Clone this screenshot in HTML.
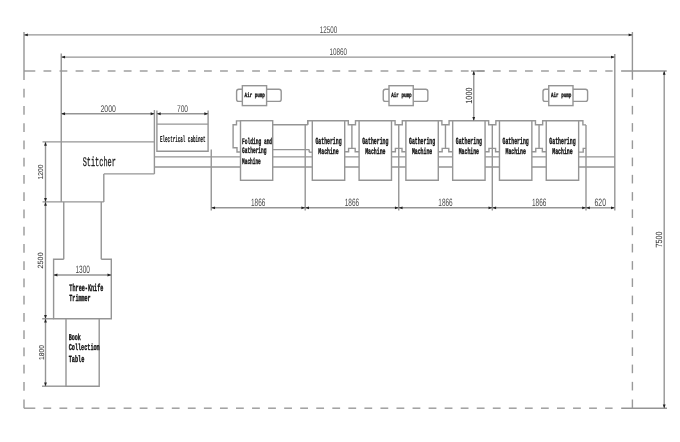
<!DOCTYPE html>
<html><head><meta charset="utf-8"><style>
html,body{margin:0;padding:0;background:#fff;width:680px;height:442px;overflow:hidden}
svg{display:block;will-change:transform;text-rendering:geometricPrecision}
</style></head><body>
<svg width="680" height="442" viewBox="0 0 680 442">
<rect x="0" y="0" width="680" height="442" fill="#fff"/>
<line x1="24" y1="71" x2="35.3" y2="71" stroke="#999" stroke-width="1.4" />
<line x1="43.5" y1="71" x2="51.3" y2="71" stroke="#999" stroke-width="1.4" />
<line x1="59.55" y1="71" x2="67.35" y2="71" stroke="#999" stroke-width="1.4" />
<line x1="75.6" y1="71" x2="83.39999999999999" y2="71" stroke="#999" stroke-width="1.4" />
<line x1="91.64999999999999" y1="71" x2="99.44999999999999" y2="71" stroke="#999" stroke-width="1.4" />
<line x1="107.69999999999999" y1="71" x2="115.49999999999999" y2="71" stroke="#999" stroke-width="1.4" />
<line x1="123.74999999999999" y1="71" x2="131.54999999999998" y2="71" stroke="#999" stroke-width="1.4" />
<line x1="139.79999999999998" y1="71" x2="147.6" y2="71" stroke="#999" stroke-width="1.4" />
<line x1="155.85" y1="71" x2="163.65" y2="71" stroke="#999" stroke-width="1.4" />
<line x1="171.9" y1="71" x2="179.70000000000002" y2="71" stroke="#999" stroke-width="1.4" />
<line x1="187.95000000000002" y1="71" x2="195.75000000000003" y2="71" stroke="#999" stroke-width="1.4" />
<line x1="204.00000000000003" y1="71" x2="211.80000000000004" y2="71" stroke="#999" stroke-width="1.4" />
<line x1="220.05000000000004" y1="71" x2="227.85000000000005" y2="71" stroke="#999" stroke-width="1.4" />
<line x1="236.10000000000005" y1="71" x2="243.90000000000006" y2="71" stroke="#999" stroke-width="1.4" />
<line x1="252.15000000000006" y1="71" x2="259.95000000000005" y2="71" stroke="#999" stroke-width="1.4" />
<line x1="268.20000000000005" y1="71" x2="276.00000000000006" y2="71" stroke="#999" stroke-width="1.4" />
<line x1="284.25000000000006" y1="71" x2="292.05000000000007" y2="71" stroke="#999" stroke-width="1.4" />
<line x1="300.30000000000007" y1="71" x2="308.1000000000001" y2="71" stroke="#999" stroke-width="1.4" />
<line x1="316.3500000000001" y1="71" x2="324.1500000000001" y2="71" stroke="#999" stroke-width="1.4" />
<line x1="332.4000000000001" y1="71" x2="340.2000000000001" y2="71" stroke="#999" stroke-width="1.4" />
<line x1="348.4500000000001" y1="71" x2="356.2500000000001" y2="71" stroke="#999" stroke-width="1.4" />
<line x1="364.5000000000001" y1="71" x2="372.3000000000001" y2="71" stroke="#999" stroke-width="1.4" />
<line x1="380.5500000000001" y1="71" x2="388.35000000000014" y2="71" stroke="#999" stroke-width="1.4" />
<line x1="396.60000000000014" y1="71" x2="404.40000000000015" y2="71" stroke="#999" stroke-width="1.4" />
<line x1="412.65000000000015" y1="71" x2="420.45000000000016" y2="71" stroke="#999" stroke-width="1.4" />
<line x1="428.70000000000016" y1="71" x2="436.50000000000017" y2="71" stroke="#999" stroke-width="1.4" />
<line x1="444.75000000000017" y1="71" x2="452.5500000000002" y2="71" stroke="#999" stroke-width="1.4" />
<line x1="460.8000000000002" y1="71" x2="468.6000000000002" y2="71" stroke="#999" stroke-width="1.4" />
<line x1="476.8500000000002" y1="71" x2="484.6500000000002" y2="71" stroke="#999" stroke-width="1.4" />
<line x1="492.9000000000002" y1="71" x2="500.7000000000002" y2="71" stroke="#999" stroke-width="1.4" />
<line x1="508.9500000000002" y1="71" x2="516.7500000000002" y2="71" stroke="#999" stroke-width="1.4" />
<line x1="525.0000000000002" y1="71" x2="532.8000000000002" y2="71" stroke="#999" stroke-width="1.4" />
<line x1="541.0500000000002" y1="71" x2="548.8500000000001" y2="71" stroke="#999" stroke-width="1.4" />
<line x1="557.1000000000001" y1="71" x2="564.9000000000001" y2="71" stroke="#999" stroke-width="1.4" />
<line x1="573.1500000000001" y1="71" x2="580.95" y2="71" stroke="#999" stroke-width="1.4" />
<line x1="589.2" y1="71" x2="597.0" y2="71" stroke="#999" stroke-width="1.4" />
<line x1="605.25" y1="71" x2="612.6" y2="71" stroke="#999" stroke-width="1.4" />
<line x1="24" y1="408.2" x2="35.3" y2="408.2" stroke="#999" stroke-width="1.4" />
<line x1="43.4" y1="408.2" x2="51.199999999999996" y2="408.2" stroke="#999" stroke-width="1.4" />
<line x1="59.45" y1="408.2" x2="67.25" y2="408.2" stroke="#999" stroke-width="1.4" />
<line x1="75.5" y1="408.2" x2="83.3" y2="408.2" stroke="#999" stroke-width="1.4" />
<line x1="91.55" y1="408.2" x2="99.35" y2="408.2" stroke="#999" stroke-width="1.4" />
<line x1="107.6" y1="408.2" x2="115.39999999999999" y2="408.2" stroke="#999" stroke-width="1.4" />
<line x1="123.64999999999999" y1="408.2" x2="131.45" y2="408.2" stroke="#999" stroke-width="1.4" />
<line x1="139.7" y1="408.2" x2="147.5" y2="408.2" stroke="#999" stroke-width="1.4" />
<line x1="155.75" y1="408.2" x2="163.55" y2="408.2" stroke="#999" stroke-width="1.4" />
<line x1="171.8" y1="408.2" x2="179.60000000000002" y2="408.2" stroke="#999" stroke-width="1.4" />
<line x1="187.85000000000002" y1="408.2" x2="195.65000000000003" y2="408.2" stroke="#999" stroke-width="1.4" />
<line x1="203.90000000000003" y1="408.2" x2="211.70000000000005" y2="408.2" stroke="#999" stroke-width="1.4" />
<line x1="219.95000000000005" y1="408.2" x2="227.75000000000006" y2="408.2" stroke="#999" stroke-width="1.4" />
<line x1="236.00000000000006" y1="408.2" x2="243.80000000000007" y2="408.2" stroke="#999" stroke-width="1.4" />
<line x1="252.05000000000007" y1="408.2" x2="259.8500000000001" y2="408.2" stroke="#999" stroke-width="1.4" />
<line x1="268.1000000000001" y1="408.2" x2="275.9000000000001" y2="408.2" stroke="#999" stroke-width="1.4" />
<line x1="284.1500000000001" y1="408.2" x2="291.9500000000001" y2="408.2" stroke="#999" stroke-width="1.4" />
<line x1="300.2000000000001" y1="408.2" x2="308.0000000000001" y2="408.2" stroke="#999" stroke-width="1.4" />
<line x1="316.2500000000001" y1="408.2" x2="324.0500000000001" y2="408.2" stroke="#999" stroke-width="1.4" />
<line x1="332.3000000000001" y1="408.2" x2="340.10000000000014" y2="408.2" stroke="#999" stroke-width="1.4" />
<line x1="348.35000000000014" y1="408.2" x2="356.15000000000015" y2="408.2" stroke="#999" stroke-width="1.4" />
<line x1="364.40000000000015" y1="408.2" x2="372.20000000000016" y2="408.2" stroke="#999" stroke-width="1.4" />
<line x1="380.45000000000016" y1="408.2" x2="388.25000000000017" y2="408.2" stroke="#999" stroke-width="1.4" />
<line x1="396.50000000000017" y1="408.2" x2="404.3000000000002" y2="408.2" stroke="#999" stroke-width="1.4" />
<line x1="412.5500000000002" y1="408.2" x2="420.3500000000002" y2="408.2" stroke="#999" stroke-width="1.4" />
<line x1="428.6000000000002" y1="408.2" x2="436.4000000000002" y2="408.2" stroke="#999" stroke-width="1.4" />
<line x1="444.6500000000002" y1="408.2" x2="452.4500000000002" y2="408.2" stroke="#999" stroke-width="1.4" />
<line x1="460.7000000000002" y1="408.2" x2="468.5000000000002" y2="408.2" stroke="#999" stroke-width="1.4" />
<line x1="476.7500000000002" y1="408.2" x2="484.55000000000024" y2="408.2" stroke="#999" stroke-width="1.4" />
<line x1="492.80000000000024" y1="408.2" x2="500.60000000000025" y2="408.2" stroke="#999" stroke-width="1.4" />
<line x1="508.85000000000025" y1="408.2" x2="516.6500000000002" y2="408.2" stroke="#999" stroke-width="1.4" />
<line x1="524.9000000000002" y1="408.2" x2="532.7000000000002" y2="408.2" stroke="#999" stroke-width="1.4" />
<line x1="540.9500000000002" y1="408.2" x2="548.7500000000001" y2="408.2" stroke="#999" stroke-width="1.4" />
<line x1="557.0000000000001" y1="408.2" x2="564.8000000000001" y2="408.2" stroke="#999" stroke-width="1.4" />
<line x1="573.0500000000001" y1="408.2" x2="580.85" y2="408.2" stroke="#999" stroke-width="1.4" />
<line x1="589.1" y1="408.2" x2="596.9" y2="408.2" stroke="#999" stroke-width="1.4" />
<line x1="605.15" y1="408.2" x2="612.6" y2="408.2" stroke="#999" stroke-width="1.4" />
<line x1="24" y1="32" x2="24" y2="79.9" stroke="#959595" stroke-width="1.4" />
<line x1="24" y1="88.8" x2="24" y2="97.39999999999999" stroke="#999" stroke-width="1.4" />
<line x1="24" y1="106.05" x2="24" y2="114.64999999999999" stroke="#999" stroke-width="1.4" />
<line x1="24" y1="123.3" x2="24" y2="131.9" stroke="#999" stroke-width="1.4" />
<line x1="24" y1="140.55" x2="24" y2="149.15" stroke="#999" stroke-width="1.4" />
<line x1="24" y1="157.8" x2="24" y2="166.4" stroke="#999" stroke-width="1.4" />
<line x1="24" y1="175.05" x2="24" y2="183.65" stroke="#999" stroke-width="1.4" />
<line x1="24" y1="192.3" x2="24" y2="200.9" stroke="#999" stroke-width="1.4" />
<line x1="24" y1="209.55" x2="24" y2="218.15" stroke="#999" stroke-width="1.4" />
<line x1="24" y1="226.8" x2="24" y2="235.4" stroke="#999" stroke-width="1.4" />
<line x1="24" y1="244.05" x2="24" y2="252.65" stroke="#999" stroke-width="1.4" />
<line x1="24" y1="261.3" x2="24" y2="269.90000000000003" stroke="#999" stroke-width="1.4" />
<line x1="24" y1="278.55" x2="24" y2="287.15000000000003" stroke="#999" stroke-width="1.4" />
<line x1="24" y1="295.8" x2="24" y2="304.40000000000003" stroke="#999" stroke-width="1.4" />
<line x1="24" y1="313.05" x2="24" y2="321.65000000000003" stroke="#999" stroke-width="1.4" />
<line x1="24" y1="330.3" x2="24" y2="338.90000000000003" stroke="#999" stroke-width="1.4" />
<line x1="24" y1="347.55" x2="24" y2="356.15000000000003" stroke="#999" stroke-width="1.4" />
<line x1="24" y1="364.8" x2="24" y2="373.40000000000003" stroke="#999" stroke-width="1.4" />
<line x1="24" y1="382.05" x2="24" y2="390.65000000000003" stroke="#999" stroke-width="1.4" />
<line x1="24" y1="399.5" x2="24" y2="408.2" stroke="#999" stroke-width="1.4" />
<line x1="632.4" y1="32" x2="632.4" y2="79.8" stroke="#959595" stroke-width="1.4" />
<line x1="632.4" y1="88.6" x2="632.4" y2="97.19999999999999" stroke="#999" stroke-width="1.4" />
<line x1="632.4" y1="105.85" x2="632.4" y2="114.44999999999999" stroke="#999" stroke-width="1.4" />
<line x1="632.4" y1="123.1" x2="632.4" y2="131.7" stroke="#999" stroke-width="1.4" />
<line x1="632.4" y1="140.35" x2="632.4" y2="148.95" stroke="#999" stroke-width="1.4" />
<line x1="632.4" y1="157.6" x2="632.4" y2="166.2" stroke="#999" stroke-width="1.4" />
<line x1="632.4" y1="174.85" x2="632.4" y2="183.45" stroke="#999" stroke-width="1.4" />
<line x1="632.4" y1="192.1" x2="632.4" y2="200.7" stroke="#999" stroke-width="1.4" />
<line x1="632.4" y1="209.35" x2="632.4" y2="217.95" stroke="#999" stroke-width="1.4" />
<line x1="632.4" y1="226.6" x2="632.4" y2="235.2" stroke="#999" stroke-width="1.4" />
<line x1="632.4" y1="243.85" x2="632.4" y2="252.45" stroke="#999" stroke-width="1.4" />
<line x1="632.4" y1="261.1" x2="632.4" y2="269.70000000000005" stroke="#999" stroke-width="1.4" />
<line x1="632.4" y1="278.35" x2="632.4" y2="286.95000000000005" stroke="#999" stroke-width="1.4" />
<line x1="632.4" y1="295.6" x2="632.4" y2="304.20000000000005" stroke="#999" stroke-width="1.4" />
<line x1="632.4" y1="312.85" x2="632.4" y2="321.45000000000005" stroke="#999" stroke-width="1.4" />
<line x1="632.4" y1="330.1" x2="632.4" y2="338.70000000000005" stroke="#999" stroke-width="1.4" />
<line x1="632.4" y1="347.35" x2="632.4" y2="355.95000000000005" stroke="#999" stroke-width="1.4" />
<line x1="632.4" y1="364.6" x2="632.4" y2="373.20000000000005" stroke="#999" stroke-width="1.4" />
<line x1="632.4" y1="381.85" x2="632.4" y2="390.45000000000005" stroke="#999" stroke-width="1.4" />
<line x1="632.4" y1="399.5" x2="632.4" y2="408.2" stroke="#999" stroke-width="1.4" />
<line x1="24" y1="34.9" x2="632.4" y2="34.9" stroke="#959595" stroke-width="1.4" />
<polygon points="24.00,34.90 27.80,33.50 27.80,36.30" fill="#222"/>
<polygon points="632.40,34.90 628.60,33.50 628.60,36.30" fill="#222"/>
<text x="319.8" y="32.7" font-size="9.64" font-family="Liberation Sans, sans-serif" fill="#4a4a4a" textLength="17.40" lengthAdjust="spacingAndGlyphs">12500</text>
<line x1="61.25" y1="53.5" x2="61.25" y2="202" stroke="#959595" stroke-width="1.4" />
<line x1="614.8" y1="54" x2="614.8" y2="210.5" stroke="#959595" stroke-width="1.4" />
<line x1="61.25" y1="57.1" x2="614.8" y2="57.1" stroke="#959595" stroke-width="1.4" />
<polygon points="61.25,57.10 65.05,55.70 65.05,58.50" fill="#222"/>
<polygon points="614.80,57.10 611.00,55.70 611.00,58.50" fill="#222"/>
<text x="329.5" y="54.9" font-size="9.64" font-family="Liberation Sans, sans-serif" fill="#4a4a4a" textLength="17.60" lengthAdjust="spacingAndGlyphs">10860</text>
<line x1="621.1" y1="71" x2="666.7" y2="71" stroke="#959595" stroke-width="1.4" />
<line x1="621.2" y1="408.2" x2="667" y2="408.2" stroke="#959595" stroke-width="1.4" />
<line x1="664.2" y1="71" x2="664.2" y2="408.2" stroke="#959595" stroke-width="1.4" />
<polygon points="664.20,71.00 662.80,74.80 665.60,74.80" fill="#222"/>
<polygon points="664.20,408.20 662.80,404.40 665.60,404.40" fill="#222"/>
<text transform="translate(658.7,239.6) rotate(-90)" x="-8.00" y="3.20" font-size="8.94" font-family="Liberation Sans, sans-serif" fill="#3a3a3a" stroke="#3a3a3a" stroke-width="0.08" textLength="16.00" lengthAdjust="spacingAndGlyphs">7500</text>
<line x1="42.5" y1="141.9" x2="154.4" y2="141.9" stroke="#959595" stroke-width="1.4" />
<line x1="154.4" y1="110" x2="154.4" y2="173.9" stroke="#959595" stroke-width="1.4" />
<line x1="154.4" y1="173.9" x2="103.8" y2="173.9" stroke="#959595" stroke-width="1.4" />
<line x1="103.8" y1="173.9" x2="103.8" y2="202" stroke="#959595" stroke-width="1.4" />
<line x1="42.5" y1="201.9" x2="103.8" y2="201.9" stroke="#959595" stroke-width="1.4" />
<line x1="61.25" y1="113.75" x2="154.4" y2="113.75" stroke="#959595" stroke-width="1.4" />
<polygon points="61.25,113.75 65.05,112.35 65.05,115.15" fill="#222"/>
<polygon points="154.40,113.75 150.60,112.35 150.60,115.15" fill="#222"/>
<text x="100.4" y="111.8" font-size="9.64" font-family="Liberation Sans, sans-serif" fill="#4a4a4a" textLength="15.50" lengthAdjust="spacingAndGlyphs">2000</text>
<text x="82.7" y="165.6" font-size="13.18" font-family="Liberation Mono, monospace" font-weight="normal" fill="#222" stroke="#222" stroke-width="0.35" textLength="33.10" lengthAdjust="spacingAndGlyphs">Stitcher</text>
<line x1="63.75" y1="202" x2="63.75" y2="259.3" stroke="#959595" stroke-width="1.4" />
<line x1="101.25" y1="202" x2="101.25" y2="259.3" stroke="#959595" stroke-width="1.4" />
<path d="M63.75,259.3 H53.6 V318.75 H111.3 V259.3 H101.25" stroke="#959595" stroke-width="1.4" fill="none"/>
<line x1="53.6" y1="275" x2="111.3" y2="275" stroke="#959595" stroke-width="1.4" />
<polygon points="53.60,275.00 57.40,273.60 57.40,276.40" fill="#222"/>
<polygon points="111.30,275.00 107.50,273.60 107.50,276.40" fill="#222"/>
<text x="75.4" y="272.5" font-size="10.61" font-family="Liberation Sans, sans-serif" fill="#4a4a4a" textLength="14.50" lengthAdjust="spacingAndGlyphs">1300</text>
<text x="69.35" y="290.8" font-size="10.00" font-family="Liberation Mono, monospace" font-weight="bold" fill="#111" stroke="#111" stroke-width="0.35" textLength="34.05" lengthAdjust="spacingAndGlyphs">Three-Knife</text>
<text x="69.35" y="301.2" font-size="9.39" font-family="Liberation Mono, monospace" font-weight="bold" fill="#111" stroke="#111" stroke-width="0.35" textLength="21.15" lengthAdjust="spacingAndGlyphs">Trimmer</text>
<line x1="42.2" y1="318.75" x2="53.6" y2="318.75" stroke="#959595" stroke-width="1.4" />
<path d="M66,318.75 V386.2 H99.2 V318.75" stroke="#959595" stroke-width="1.4" fill="none"/>
<line x1="42" y1="386.2" x2="66" y2="386.2" stroke="#959595" stroke-width="1.4" />
<text x="68.7" y="339.8" font-size="8.79" font-family="Liberation Mono, monospace" font-weight="bold" fill="#111" stroke="#111" stroke-width="0.35" textLength="12.20" lengthAdjust="spacingAndGlyphs">Book</text>
<text x="68.7" y="350.4" font-size="9.09" font-family="Liberation Mono, monospace" font-weight="bold" fill="#111" stroke="#111" stroke-width="0.35" textLength="31.00" lengthAdjust="spacingAndGlyphs">Collection</text>
<text x="68.7" y="361.6" font-size="9.39" font-family="Liberation Mono, monospace" font-weight="bold" fill="#111" stroke="#111" stroke-width="0.35" textLength="15.70" lengthAdjust="spacingAndGlyphs">Table</text>
<line x1="45.5" y1="141.9" x2="45.5" y2="201.9" stroke="#959595" stroke-width="1.4" />
<polygon points="45.50,141.90 44.10,145.70 46.90,145.70" fill="#222"/>
<polygon points="45.50,201.90 44.10,198.10 46.90,198.10" fill="#222"/>
<text transform="translate(40.5,172.1) rotate(-90)" x="-7.50" y="2.55" font-size="7.12" font-family="Liberation Sans, sans-serif" fill="#3a3a3a" stroke="#3a3a3a" stroke-width="0.08" textLength="15.00" lengthAdjust="spacingAndGlyphs">1200</text>
<line x1="45.5" y1="201.9" x2="45.5" y2="318.75" stroke="#959595" stroke-width="1.4" />
<polygon points="45.50,201.90 44.10,205.70 46.90,205.70" fill="#222"/>
<polygon points="45.50,318.75 44.10,314.95 46.90,314.95" fill="#222"/>
<text transform="translate(40.6,260.4) rotate(-90)" x="-8.10" y="2.70" font-size="7.54" font-family="Liberation Sans, sans-serif" fill="#3a3a3a" stroke="#3a3a3a" stroke-width="0.08" textLength="16.20" lengthAdjust="spacingAndGlyphs">2500</text>
<line x1="45.5" y1="318.75" x2="45.5" y2="386.2" stroke="#959595" stroke-width="1.4" />
<polygon points="45.50,318.75 44.10,322.55 46.90,322.55" fill="#222"/>
<polygon points="45.50,386.20 44.10,382.40 46.90,382.40" fill="#222"/>
<text transform="translate(41.0,352.5) rotate(-90)" x="-7.50" y="2.55" font-size="7.12" font-family="Liberation Sans, sans-serif" fill="#3a3a3a" stroke="#3a3a3a" stroke-width="0.08" textLength="15.00" lengthAdjust="spacingAndGlyphs">1800</text>
<path d="M156.9,110.6 V151.25 H208.1 V110.6" stroke="#959595" stroke-width="1.4" fill="none"/>
<line x1="156.9" y1="124.1" x2="208.1" y2="124.1" stroke="#959595" stroke-width="1.4" />
<line x1="156.9" y1="113.75" x2="208.1" y2="113.75" stroke="#959595" stroke-width="1.4" />
<polygon points="156.90,113.75 160.70,112.35 160.70,115.15" fill="#222"/>
<polygon points="208.10,113.75 204.30,112.35 204.30,115.15" fill="#222"/>
<text x="176.9" y="111.6" font-size="9.64" font-family="Liberation Sans, sans-serif" fill="#4a4a4a" textLength="11.20" lengthAdjust="spacingAndGlyphs">700</text>
<text x="160" y="141.6" font-size="9.09" font-family="Liberation Mono, monospace" font-weight="bold" fill="#111" stroke="#111" stroke-width="0.12" textLength="45.60" lengthAdjust="spacingAndGlyphs">Electrical cabinet</text>
<line x1="154.4" y1="156.9" x2="614.8" y2="156.9" stroke="#959595" stroke-width="1.4" />
<line x1="154.4" y1="167.0" x2="614.8" y2="167.0" stroke="#959595" stroke-width="1.4" />
<path d="M240.5,120.9 H236.5 V124.7 H233.1 V147.8 H237 V152 H240.5" stroke="#959595" stroke-width="1.4" fill="none"/>
<rect x="240.5" y="120.7" width="32.19999999999999" height="59.60000000000001" rx="0" fill="#fff" stroke="#959595" stroke-width="1.4"/>
<text x="242.1" y="143.6" font-size="8.48" font-family="Liberation Mono, monospace" font-weight="bold" fill="#111" stroke="#111" stroke-width="0.35" textLength="30.00" lengthAdjust="spacingAndGlyphs">Folding and</text>
<text x="242.1" y="153.4" font-size="8.48" font-family="Liberation Mono, monospace" font-weight="bold" fill="#111" stroke="#111" stroke-width="0.35" textLength="24.40" lengthAdjust="spacingAndGlyphs">Gathering</text>
<text x="242.1" y="163.8" font-size="8.48" font-family="Liberation Mono, monospace" font-weight="bold" fill="#111" stroke="#111" stroke-width="0.35" textLength="18.70" lengthAdjust="spacingAndGlyphs">Machine</text>
<line x1="272.7" y1="124.7" x2="307.7" y2="124.7" stroke="#959595" stroke-width="1.4" />
<line x1="307.7" y1="124.7" x2="307.7" y2="120.7" stroke="#959595" stroke-width="1.4" />
<line x1="272.7" y1="149.6" x2="309.2" y2="149.6" stroke="#959595" stroke-width="1.4" />
<line x1="309.2" y1="149.6" x2="309.2" y2="152.2" stroke="#959595" stroke-width="1.4" />
<line x1="309.2" y1="152.2" x2="312.3" y2="152.2" stroke="#959595" stroke-width="1.4" />
<rect x="312.30" y="120.7" width="32.4" height="59.60" fill="#fff" stroke="none"/>
<path d="M312.30,120.7 V180.3 H344.70 V120.7" stroke="#959595" stroke-width="1.4" fill="none"/>
<text x="315.4" y="144.2" font-size="9.39" font-family="Liberation Mono, monospace" font-weight="bold" fill="#111" stroke="#111" stroke-width="0.35" textLength="26.20" lengthAdjust="spacingAndGlyphs">Gathering</text>
<text x="318.35" y="153.6" font-size="8.64" font-family="Liberation Mono, monospace" font-weight="bold" fill="#111" stroke="#111" stroke-width="0.35" textLength="20.30" lengthAdjust="spacingAndGlyphs">Machine</text>
<path d="M344.70,151.8 H348.59 V148.4 H355.19 V151.8 H359.09" stroke="#959595" stroke-width="1.4" fill="none"/>
<line x1="351.895" y1="124.7" x2="351.895" y2="148.4" stroke="#959595" stroke-width="1.4" />
<rect x="359.09" y="120.7" width="32.4" height="59.60" fill="#fff" stroke="none"/>
<path d="M359.09,120.7 V180.3 H391.49 V120.7" stroke="#959595" stroke-width="1.4" fill="none"/>
<text x="362.19" y="144.2" font-size="9.39" font-family="Liberation Mono, monospace" font-weight="bold" fill="#111" stroke="#111" stroke-width="0.35" textLength="26.20" lengthAdjust="spacingAndGlyphs">Gathering</text>
<text x="365.14000000000004" y="153.6" font-size="8.64" font-family="Liberation Mono, monospace" font-weight="bold" fill="#111" stroke="#111" stroke-width="0.35" textLength="20.30" lengthAdjust="spacingAndGlyphs">Machine</text>
<path d="M391.49,151.8 H395.38 V148.4 H401.99 V151.8 H405.88" stroke="#959595" stroke-width="1.4" fill="none"/>
<rect x="405.88" y="120.7" width="32.4" height="59.60" fill="#fff" stroke="none"/>
<path d="M405.88,120.7 V180.3 H438.28 V120.7" stroke="#959595" stroke-width="1.4" fill="none"/>
<text x="408.97999999999996" y="144.2" font-size="9.39" font-family="Liberation Mono, monospace" font-weight="bold" fill="#111" stroke="#111" stroke-width="0.35" textLength="26.20" lengthAdjust="spacingAndGlyphs">Gathering</text>
<text x="411.93" y="153.6" font-size="8.64" font-family="Liberation Mono, monospace" font-weight="bold" fill="#111" stroke="#111" stroke-width="0.35" textLength="20.30" lengthAdjust="spacingAndGlyphs">Machine</text>
<path d="M438.28,151.8 H442.18 V148.4 H448.78 V151.8 H452.67" stroke="#959595" stroke-width="1.4" fill="none"/>
<line x1="445.475" y1="124.7" x2="445.475" y2="148.4" stroke="#959595" stroke-width="1.4" />
<rect x="452.67" y="120.7" width="32.4" height="59.60" fill="#fff" stroke="none"/>
<path d="M452.67,120.7 V180.3 H485.07 V120.7" stroke="#959595" stroke-width="1.4" fill="none"/>
<text x="455.77" y="144.2" font-size="9.39" font-family="Liberation Mono, monospace" font-weight="bold" fill="#111" stroke="#111" stroke-width="0.35" textLength="26.20" lengthAdjust="spacingAndGlyphs">Gathering</text>
<text x="458.72" y="153.6" font-size="8.64" font-family="Liberation Mono, monospace" font-weight="bold" fill="#111" stroke="#111" stroke-width="0.35" textLength="20.30" lengthAdjust="spacingAndGlyphs">Machine</text>
<path d="M485.07,151.8 H488.96 V148.4 H495.56 V151.8 H499.46" stroke="#959595" stroke-width="1.4" fill="none"/>
<rect x="499.46" y="120.7" width="32.4" height="59.60" fill="#fff" stroke="none"/>
<path d="M499.46,120.7 V180.3 H531.86 V120.7" stroke="#959595" stroke-width="1.4" fill="none"/>
<text x="502.56000000000006" y="144.2" font-size="9.39" font-family="Liberation Mono, monospace" font-weight="bold" fill="#111" stroke="#111" stroke-width="0.35" textLength="26.20" lengthAdjust="spacingAndGlyphs">Gathering</text>
<text x="505.5100000000001" y="153.6" font-size="8.64" font-family="Liberation Mono, monospace" font-weight="bold" fill="#111" stroke="#111" stroke-width="0.35" textLength="20.30" lengthAdjust="spacingAndGlyphs">Machine</text>
<path d="M531.86,151.8 H535.76 V148.4 H542.36 V151.8 H546.25" stroke="#959595" stroke-width="1.4" fill="none"/>
<line x1="539.0550000000001" y1="124.7" x2="539.0550000000001" y2="148.4" stroke="#959595" stroke-width="1.4" />
<rect x="546.25" y="120.7" width="32.4" height="59.60" fill="#fff" stroke="none"/>
<path d="M546.25,120.7 V180.3 H578.65 V120.7" stroke="#959595" stroke-width="1.4" fill="none"/>
<text x="549.35" y="144.2" font-size="9.39" font-family="Liberation Mono, monospace" font-weight="bold" fill="#111" stroke="#111" stroke-width="0.35" textLength="26.20" lengthAdjust="spacingAndGlyphs">Gathering</text>
<text x="552.3000000000001" y="153.6" font-size="8.64" font-family="Liberation Mono, monospace" font-weight="bold" fill="#111" stroke="#111" stroke-width="0.35" textLength="20.30" lengthAdjust="spacingAndGlyphs">Machine</text>
<path d="M307.7,124.7 L307.7,120.7 H348.29 V124.7 H355.50 V120.7 H395.08 V124.7 H402.29 V120.7 H441.88 V124.7 H449.08 V120.7 H488.66 V124.7 H495.87 V120.7 H535.46 V124.7 H542.66 V120.7 H582.9 V124.9 H586" stroke="#959595" stroke-width="1.4" fill="none"/>
<path d="M586,148.4 H583.2 V152.1 H578.7" stroke="#959595" stroke-width="1.4" fill="none"/>
<line x1="211.25" y1="149.4" x2="211.25" y2="210.5" stroke="#959595" stroke-width="1.4" />
<line x1="305.2" y1="124.7" x2="305.2" y2="210.5" stroke="#959595" stroke-width="1.4" />
<line x1="398.75" y1="124.7" x2="398.75" y2="210.5" stroke="#959595" stroke-width="1.4" />
<line x1="492.3" y1="124.7" x2="492.3" y2="210.5" stroke="#959595" stroke-width="1.4" />
<line x1="586.0" y1="124.9" x2="586.0" y2="210.5" stroke="#959595" stroke-width="1.4" />
<line x1="211.25" y1="207.8" x2="305.2" y2="207.8" stroke="#959595" stroke-width="1.4" />
<polygon points="211.25,207.80 215.05,206.40 215.05,209.20" fill="#222"/>
<polygon points="305.20,207.80 301.40,206.40 301.40,209.20" fill="#222"/>
<text x="251.02500000000003" y="205.8" font-size="10.61" font-family="Liberation Sans, sans-serif" fill="#4a4a4a" textLength="14.40" lengthAdjust="spacingAndGlyphs">1866</text>
<line x1="305.2" y1="207.8" x2="398.75" y2="207.8" stroke="#959595" stroke-width="1.4" />
<polygon points="305.20,207.80 309.00,206.40 309.00,209.20" fill="#222"/>
<polygon points="398.75,207.80 394.95,206.40 394.95,209.20" fill="#222"/>
<text x="344.77500000000003" y="205.8" font-size="10.61" font-family="Liberation Sans, sans-serif" fill="#4a4a4a" textLength="14.40" lengthAdjust="spacingAndGlyphs">1866</text>
<line x1="398.75" y1="207.8" x2="492.3" y2="207.8" stroke="#959595" stroke-width="1.4" />
<polygon points="398.75,207.80 402.55,206.40 402.55,209.20" fill="#222"/>
<polygon points="492.30,207.80 488.50,206.40 488.50,209.20" fill="#222"/>
<text x="438.325" y="205.8" font-size="10.61" font-family="Liberation Sans, sans-serif" fill="#4a4a4a" textLength="14.40" lengthAdjust="spacingAndGlyphs">1866</text>
<line x1="492.3" y1="207.8" x2="586.0" y2="207.8" stroke="#959595" stroke-width="1.4" />
<polygon points="492.30,207.80 496.10,206.40 496.10,209.20" fill="#222"/>
<polygon points="586.00,207.80 582.20,206.40 582.20,209.20" fill="#222"/>
<text x="531.9499999999999" y="205.8" font-size="10.61" font-family="Liberation Sans, sans-serif" fill="#4a4a4a" textLength="14.40" lengthAdjust="spacingAndGlyphs">1866</text>
<line x1="586.0" y1="207.8" x2="614.8" y2="207.8" stroke="#959595" stroke-width="1.4" />
<polygon points="586.00,207.80 589.80,206.40 589.80,209.20" fill="#222"/>
<polygon points="614.80,207.80 611.00,206.40 611.00,209.20" fill="#222"/>
<text x="594.5" y="205.8" font-size="10.61" font-family="Liberation Sans, sans-serif" fill="#4a4a4a" textLength="11.60" lengthAdjust="spacingAndGlyphs">620</text>
<line x1="471" y1="71" x2="484.5" y2="71" stroke="#959595" stroke-width="1.4" />
<line x1="473.75" y1="71" x2="473.75" y2="120.7" stroke="#959595" stroke-width="1.4" />
<polygon points="473.75,71.00 472.35,74.80 475.15,74.80" fill="#222"/>
<polygon points="473.75,120.70 472.35,116.90 475.15,116.90" fill="#222"/>
<text transform="translate(469.1,95.6) rotate(-90)" x="-8.10" y="3.20" font-size="8.94" font-family="Liberation Sans, sans-serif" fill="#3a3a3a" stroke="#3a3a3a" stroke-width="0.08" textLength="16.20" lengthAdjust="spacingAndGlyphs">1000</text>
<rect x="236.6" y="89.3" width="44.599999999999994" height="12.100000000000009" rx="2.2" fill="#fff" stroke="#959595" stroke-width="1.4"/>
<rect x="242.35" y="85.7" width="24.25000000000003" height="19.89999999999999" rx="0" fill="#fff" stroke="#959595" stroke-width="1.4"/>
<text x="244.6" y="97.4" font-size="6.36" font-family="Liberation Mono, monospace" font-weight="bold" fill="#111" stroke="#111" stroke-width="0.35" textLength="20.30" lengthAdjust="spacingAndGlyphs">Air pump</text>
<rect x="383.25" y="89.3" width="44.60000000000002" height="12.100000000000009" rx="2.2" fill="#fff" stroke="#959595" stroke-width="1.4"/>
<rect x="389.0" y="85.7" width="24.25" height="19.89999999999999" rx="0" fill="#fff" stroke="#959595" stroke-width="1.4"/>
<text x="391.25" y="97.4" font-size="6.36" font-family="Liberation Mono, monospace" font-weight="bold" fill="#111" stroke="#111" stroke-width="0.35" textLength="20.30" lengthAdjust="spacingAndGlyphs">Air pump</text>
<rect x="543.0" y="89.3" width="44.60000000000002" height="12.100000000000009" rx="2.2" fill="#fff" stroke="#959595" stroke-width="1.4"/>
<rect x="548.75" y="85.7" width="24.25" height="19.89999999999999" rx="0" fill="#fff" stroke="#959595" stroke-width="1.4"/>
<text x="551.0" y="97.4" font-size="6.36" font-family="Liberation Mono, monospace" font-weight="bold" fill="#111" stroke="#111" stroke-width="0.35" textLength="20.30" lengthAdjust="spacingAndGlyphs">Air pump</text>
</svg>
</body></html>
